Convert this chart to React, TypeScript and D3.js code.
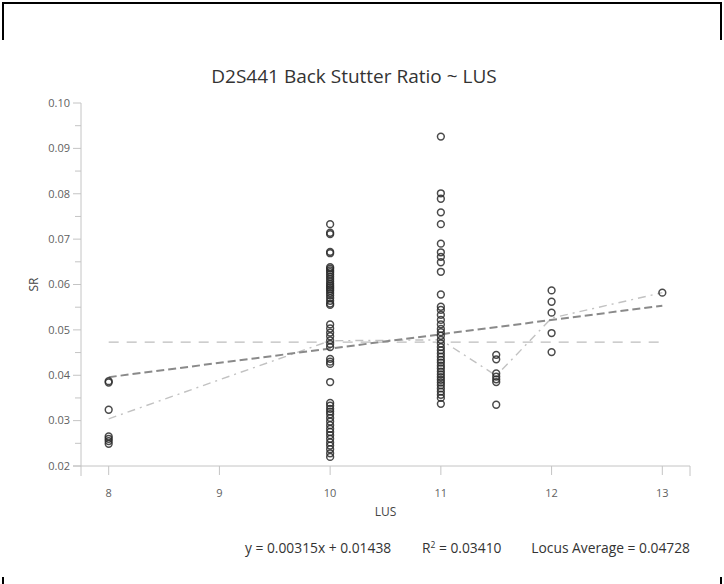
import React from "react";
import * as d3 from "d3";

// ---- data ----
const lus8 = [0.0387, 0.0384, 0.0324, 0.0265, 0.0260, 0.0255, 0.0249];
const lus10 = [
  0.0733, 0.0714, 0.0711, 0.0672, 0.0669,
  0.0638, 0.0635, 0.0631, 0.0627, 0.0622, 0.0617, 0.0612, 0.0607, 0.0602, 0.0598,
  0.0594, 0.0590, 0.0586, 0.0581, 0.0576, 0.0570, 0.0564, 0.0558, 0.0555,
  0.0512, 0.0503, 0.0494, 0.0486, 0.0477, 0.0469, 0.0462, 0.0436, 0.0430, 0.0425, 0.0385,
  0.0339, 0.0333, 0.0326, 0.0320, 0.0314, 0.0306, 0.0298, 0.0290, 0.0282, 0.0275,
  0.0268, 0.0260, 0.0252, 0.0245, 0.0237, 0.0228, 0.0220,
];
const lus11 = [
  0.0926, 0.0801, 0.0789, 0.0759, 0.0733, 0.0690, 0.0671, 0.0661, 0.0649, 0.0628,
  0.0578, 0.0551, 0.0544, 0.0533, 0.0522, 0.0512, 0.0502, 0.0495, 0.0487, 0.0478,
  0.0470, 0.0462, 0.0455, 0.0448, 0.0441, 0.0434, 0.0428, 0.0421, 0.0415, 0.0408,
  0.0402, 0.0396, 0.0390, 0.0384, 0.0378, 0.0371, 0.0364, 0.0357, 0.0350, 0.0337,
];
const lus11_5 = [0.0445, 0.0435, 0.0404, 0.0397, 0.0391, 0.0385, 0.0335];
const lus12 = [0.0587, 0.0562, 0.0538, 0.0493, 0.0451];
const lus13 = [0.0582];

const lusCategories = [8, 10, 11, 11.5, 12, 13];
const lusGroups = [lus8, lus10, lus11, lus11_5, lus12, lus13];
const lusMeans = [0.0304, 0.0476, 0.0478, 0.0399, 0.0526, 0.0582];

const slope = 0.00315;
const intercept = 0.01438;
const rSquared = 0.0341;
const locusAverage = 0.04728;

const xTicks = [8, 9, 10, 11, 12, 13];
const yTicks = [0.02, 0.03, 0.04, 0.05, 0.06, 0.07, 0.08, 0.09, 0.1];
const yMinorTicks = [0.025, 0.035, 0.045, 0.055, 0.065, 0.075, 0.085, 0.095];

const titleText = "D2S441 Back Stutter Ratio ~ LUS";

export default function App() {
  const W = 724, H = 584;
  const x = d3.scaleLinear().domain([7.75, 13.25]).range([81, 690]);
  const y = d3.scaleLinear().domain([0.02, 0.1]).range([466, 103]);
  const font = "'Open Sans', 'Noto Sans', sans-serif";
  const axisColor = "#c4c4c4";
  const tickColor = "#5f5f5f";

  const points: { lx: number; v: number }[] = [];
  lusGroups.forEach((g, i) => g.forEach((v) => points.push({ lx: lusCategories[i], v })));

  const meanLine = d3
    .line<number>()
    .x((_, i) => x(lusCategories[i]))
    .y((d) => y(d))(lusMeans) as string;

  const xMin = lusCategories[0];
  const xMax = lusCategories[lusCategories.length - 1];

  return (
    <svg
      width={W}
      height={H}
      style={{ position: "absolute", left: 0, top: 0, background: "#fff" }}
      fontFamily={font}
    >
      {/* outer frame fragments */}
      <line x1={2} x2={722} y1={3} y2={3} stroke="#000" strokeWidth={2} />
      <line x1={3} x2={3} y1={2} y2={40} stroke="#000" strokeWidth={2} />
      <line x1={721} x2={721} y1={2} y2={40} stroke="#000" strokeWidth={2} />
      <line x1={3} x2={3} y1={577} y2={584} stroke="#000" strokeWidth={2} />
      <line x1={721} x2={721} y1={577} y2={584} stroke="#000" strokeWidth={2} />

      {/* title */}
      <text x={354} y={83} textAnchor="middle" fontSize={19} fill="#333">
        {titleText}
      </text>

      {/* y axis */}
      <line x1={81} x2={81} y1={y(0.1)} y2={476} stroke={axisColor} strokeWidth={1} />
      {yTicks.map((t) => (
        <g key={"yt" + t}>
          <line x1={73} x2={81} y1={y(t)} y2={y(t)} stroke={axisColor} />
          <text x={70} y={y(t)} dy="0.35em" textAnchor="end" fontSize={11} fill={tickColor}>
            {t.toFixed(2)}
          </text>
        </g>
      ))}
      {yMinorTicks.map((t) => (
        <line key={"ym" + t} x1={75} x2={81} y1={y(t)} y2={y(t)} stroke={axisColor} />
      ))}
      <text
        transform={`translate(34,${(y(0.02) + y(0.1)) / 2}) rotate(-90)`}
        textAnchor="middle"
        dy="0.35em"
        fontSize={12}
        fill="#444"
      >
        SR
      </text>

      {/* x axis */}
      <line x1={73} x2={690} y1={466} y2={466} stroke={axisColor} />
      <line x1={690} x2={690} y1={466} y2={476} stroke={axisColor} />
      {xTicks.map((t) => (
        <g key={"xt" + t}>
          <line x1={x(t)} x2={x(t)} y1={466} y2={475} stroke={axisColor} />
          <text x={x(t)} y={497} textAnchor="middle" fontSize={11} fill={tickColor}>
            {t}
          </text>
        </g>
      ))}
      <text x={385.5} y={516} textAnchor="middle" fontSize={12} fill="#444">
        LUS
      </text>

      {/* locus average */}
      <line
        x1={x(xMin)}
        x2={x(xMax)}
        y1={y(locusAverage)}
        y2={y(locusAverage)}
        stroke="#bdbdbd"
        strokeWidth={1.3}
        strokeDasharray="10,8"
      />
      {/* per-LUS means */}
      <path d={meanLine} fill="none" stroke="#c2c2c2" strokeWidth={1.4} strokeDasharray="8,5,2,5" />
      {/* regression */}
      <line
        x1={x(xMin)}
        x2={x(xMax)}
        y1={y(slope * xMin + intercept)}
        y2={y(slope * xMax + intercept)}
        stroke="#8a8a8a"
        strokeWidth={2}
        strokeDasharray="8,4"
      />

      {/* points */}
      {points.map((p, i) => (
        <circle
          key={i}
          cx={x(p.lx)}
          cy={y(p.v)}
          r={3.4}
          fill="none"
          stroke="#2a2a2a"
          strokeOpacity={0.85}
          strokeWidth={1.5}
        />
      ))}

      {/* footer */}
      <text x={245} y={553} fontSize={13.8} fill="#333">
        {`y = ${slope.toFixed(5)}x + ${intercept.toFixed(5)}`}
      </text>
      <text x={422} y={553} fontSize={13.8} fill="#333">
        R<tspan dy={-5} fontSize={8.5}>2</tspan>
        <tspan dy={5}>{` = ${rSquared.toFixed(5)}`}</tspan>
      </text>
      <text x={690} y={553} textAnchor="end" fontSize={13.8} fill="#333">
        {`Locus Average = ${locusAverage.toFixed(5)}`}
      </text>
    </svg>
  );
}
